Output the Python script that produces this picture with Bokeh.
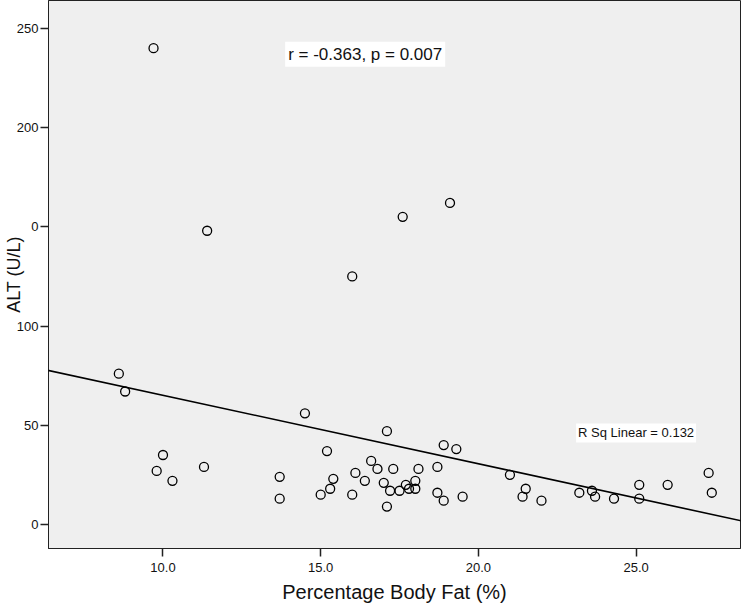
from bokeh.plotting import figure
from bokeh.models import (Range1d, Label, FixedTicker, Slope, ColumnDataSource,
                          NumeralTickFormatter)
from bokeh.embed import file_html
from bokeh.resources import INLINE

# Data
body_fat = [9.7, 11.4, 16.0, 17.6, 19.1,
            8.6, 8.8, 14.5, 17.1, 10.0, 9.8, 10.3, 11.3, 13.7, 13.7,
            15.2, 15.4, 15.3, 15.0, 16.1, 16.4, 16.0, 16.6, 16.8, 17.3,
            17.0, 17.2, 17.1, 17.5, 17.7, 17.8, 18.0, 18.0, 18.1,
            18.9, 19.3, 18.7, 18.7, 18.9, 19.5, 21.0, 21.5, 21.4, 22.0,
            23.2, 23.6, 23.7, 24.3, 25.1, 25.1, 26.0, 27.3, 27.4]
alt = [240, 148, 125, 155, 162,
       76, 67, 56, 47, 35, 27, 22, 29, 24, 13,
       37, 23, 18, 15, 26, 22, 15, 32, 28, 28,
       21, 17, 9, 17, 20, 18, 22, 18, 28,
       40, 38, 29, 16, 12, 14, 25, 18, 14, 12,
       16, 17, 14, 13, 20, 13, 20, 26, 16]

fit_intercept = 99.6
fit_slope = -3.45

x_ticks = [10, 15, 20, 25]
y_ticks = [0, 50, 100, 150, 200, 250]
y_tick_labels = {150: "0"}

stat_text = "r = -0.363, p = 0.007"
rsq_text = "R Sq Linear = 0.132"
x_title = "Percentage Body Fat (%)"
y_title = "ALT (U/L)"

FONT = "Liberation Sans"
INK = "#111111"

p = figure(width=742, height=606, output_backend="svg", toolbar_location=None,
           x_range=Range1d(6.37, 28.31), y_range=Range1d(-12.1, 264.0),
           min_border_left=45, min_border_right=2, min_border_top=0,
           min_border_bottom=58)

p.background_fill_color = "#efefef"
p.border_fill_color = "white"
p.outline_line_color = "#222222"
p.outline_line_width = 1
p.grid.visible = False

# X axis
xa = p.xaxis[0]
xa.ticker = FixedTicker(ticks=x_ticks)
xa.formatter = NumeralTickFormatter(format="0.0")
xa.axis_label = x_title
xa.axis_label_text_font = FONT
xa.axis_label_text_font_size = "20px"
xa.axis_label_text_font_style = "normal"
xa.axis_label_text_color = INK
xa.axis_label_standoff = 6
xa.major_label_text_font = FONT
xa.major_label_text_font_size = "13px"
xa.major_label_text_color = INK
xa.major_label_standoff = 6
xa.major_tick_out = 8
xa.major_tick_in = 0
xa.minor_tick_out = 0
xa.minor_tick_in = 0
xa.axis_line_color = "#222222"
xa.major_tick_line_color = "#222222"
xa.major_tick_line_width = 1.5

# Y axis
ya = p.yaxis[0]
ya.ticker = FixedTicker(ticks=y_ticks)
ya.major_label_overrides = y_tick_labels
ya.axis_label = y_title
ya.axis_label_text_font = FONT
ya.axis_label_text_font_size = "18px"
ya.axis_label_text_font_style = "normal"
ya.axis_label_text_color = INK
ya.axis_label_standoff = -10
ya.major_label_text_font = FONT
ya.major_label_text_font_size = "13px"
ya.major_label_text_color = INK
ya.major_label_standoff = 2
ya.major_tick_out = 8
ya.major_tick_in = 0
ya.minor_tick_out = 0
ya.minor_tick_in = 0
ya.axis_line_color = "#222222"
ya.major_tick_line_color = "#222222"
ya.major_tick_line_width = 1.5

src = ColumnDataSource(data=dict(x=body_fat, y=alt))
p.scatter("x", "y", source=src, size=9, marker="circle",
          fill_color=None, line_color="black", line_width=1.3)

p.add_layout(Slope(gradient=fit_slope, y_intercept=fit_intercept,
                   line_color="black", line_width=1.6))

p.add_layout(Label(x=16.41, y=236.9, text=stat_text, text_font=FONT,
                   text_font_size="17px", text_color=INK,
                   text_align="center", text_baseline="middle",
                   background_fill_color="white", padding=3))

p.add_layout(Label(x=25.0, y=46.1, text=rsq_text, text_font=FONT,
                   text_font_size="13px", text_color=INK,
                   text_align="center", text_baseline="middle",
                   background_fill_color="white", padding=2))

open("out.html", "w").write(file_html(p, INLINE))
